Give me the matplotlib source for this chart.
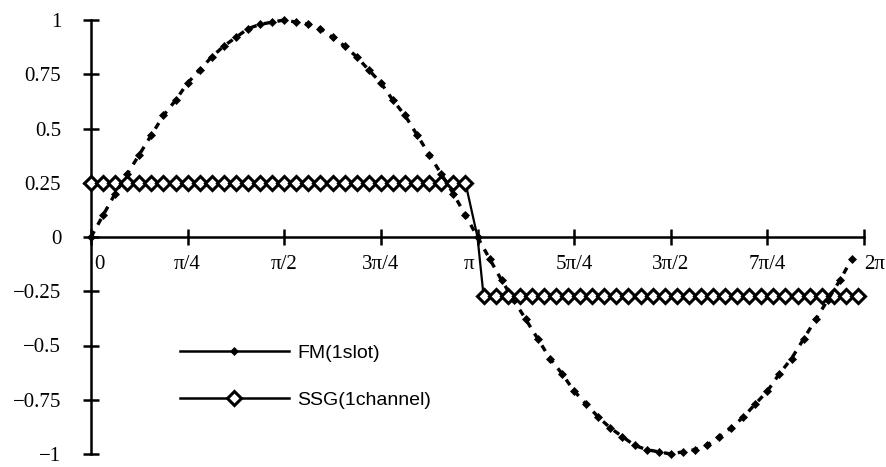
import numpy as np
import matplotlib
matplotlib.use("Agg")
import matplotlib.pyplot as plt
from matplotlib.lines import Line2D
import matplotlib.transforms as mtransforms

# ---------------- data ----------------
n_samples = 64
fm_vals = [0.00, 0.10, 0.20, 0.29, 0.38, 0.47, 0.56, 0.63, 0.71, 0.77, 0.83, 0.88, 0.92, 0.96, 0.98, 0.99,
           1.00, 0.99, 0.98, 0.96, 0.92, 0.88, 0.83, 0.77, 0.71, 0.63, 0.56, 0.47, 0.38, 0.29, 0.20, 0.10,
           0.00, -0.10, -0.20, -0.29, -0.38, -0.47, -0.56, -0.63, -0.71, -0.77, -0.83, -0.88, -0.92, -0.96, -0.98, -0.99,
           -1.00, -0.99, -0.98, -0.96, -0.92, -0.88, -0.83, -0.77, -0.71, -0.63, -0.56, -0.47, -0.38, -0.29, -0.20, -0.10]
ssg_high = 0.25
ssg_low = -0.27
ssg_vals = [ssg_high] * 32 + [0.0] + [ssg_low] * 32

y_ticks = [1, 0.75, 0.5, 0.25, 0, -0.25, -0.5, -0.75, -1]
y_labels = ["1", "0.75", "0.5", "0.25", "0", "\u22120.25", "\u22120.5", "\u22120.75", "\u22121"]
x_tick_quarters = [0, 1, 2, 3, 4, 5, 6, 7, 8]
x_labels = ["0", "\u03c0/4", "\u03c0/2", "3\u03c0/4", "\u03c0", "5\u03c0/4", "3\u03c0/2", "7\u03c0/4", "2\u03c0"]
series_names = ["FM(1slot)", "SSG(1channel)"]

# ---------------- positions ----------------
step = 2 * np.pi / n_samples
fm_x = np.arange(n_samples) * step
ssg_x = np.concatenate([np.arange(32) * step, [np.pi], np.pi + (np.arange(32) + 0.5) * step])
ssg_marks = list(range(32)) + list(range(33, 65))
x_ticks = np.array(x_tick_quarters) * np.pi / 4

# ---------------- figure ----------------
W, H = 886, 467
fig = plt.figure(figsize=(W / 100, H / 100), dpi=100)
ax = fig.add_axes([91 / W, 13 / H, (864 - 91) / W, 434 / H])
ax.set_xlim(0, 2 * np.pi)
ax.set_ylim(-1, 1)

for s in ["top", "right"]:
    ax.spines[s].set_visible(False)
ax.spines["bottom"].set_position(("data", 0))
ax.spines["left"].set_linewidth(1.8)
ax.spines["bottom"].set_linewidth(1.8)

serif = "Liberation Serif"
sans = "Liberation Sans"

ax.set_yticks(y_ticks)
ax.set_yticklabels(y_labels, fontfamily=serif, fontsize=15)
ax.tick_params(axis="y", direction="inout", length=11, width=1.8, pad=16)
ax.set_xticks(x_ticks)
ax.set_xticklabels([""] * len(x_ticks))
ax.tick_params(axis="x", direction="inout", length=11, width=1.8)

label_dx = {0: 2, 4: -6, 8: 0}
label_ha = {0: "left", 8: "left"}
for i, (xt, lab) in enumerate(zip(x_ticks, x_labels)):
    tr = mtransforms.offset_copy(ax.transData, fig=fig, x=label_dx.get(i, 0), y=-20, units="points")
    ax.text(xt, 0, lab, transform=tr, ha=label_ha.get(i, "center"), va="center",
            fontfamily=serif, fontsize=15, clip_on=False)

ax.plot(ssg_x, ssg_vals, color="black", lw=1.6, marker="D", ms=7.0, mfc="white", mec="black",
        mew=2.2, markevery=ssg_marks, clip_on=False, zorder=3)
ax.plot(fm_x, fm_vals, color="black", lw=2.4, ls=(0, (2, 2.2)), marker="D", ms=4.3, mew=0.5,
        clip_on=False, zorder=4)

handles = [
    Line2D([], [], color="black", lw=1.8, marker="D", ms=4.3, mew=0.5),
    Line2D([], [], color="black", lw=1.8, marker="D", ms=7.0, mfc="white", mec="black", mew=2.2),
]
leg = fig.legend(handles, series_names, loc="center left",
                 bbox_to_anchor=(180 / W, (H - 376.5) / H), bbox_transform=fig.transFigure,
                 frameon=False, borderpad=0, borderaxespad=0, handlelength=5.6,
                 handletextpad=0.42, labelspacing=1.5, numpoints=1,
                 prop={"family": sans, "size": 14})

fig.savefig("out.png", dpi=100)
